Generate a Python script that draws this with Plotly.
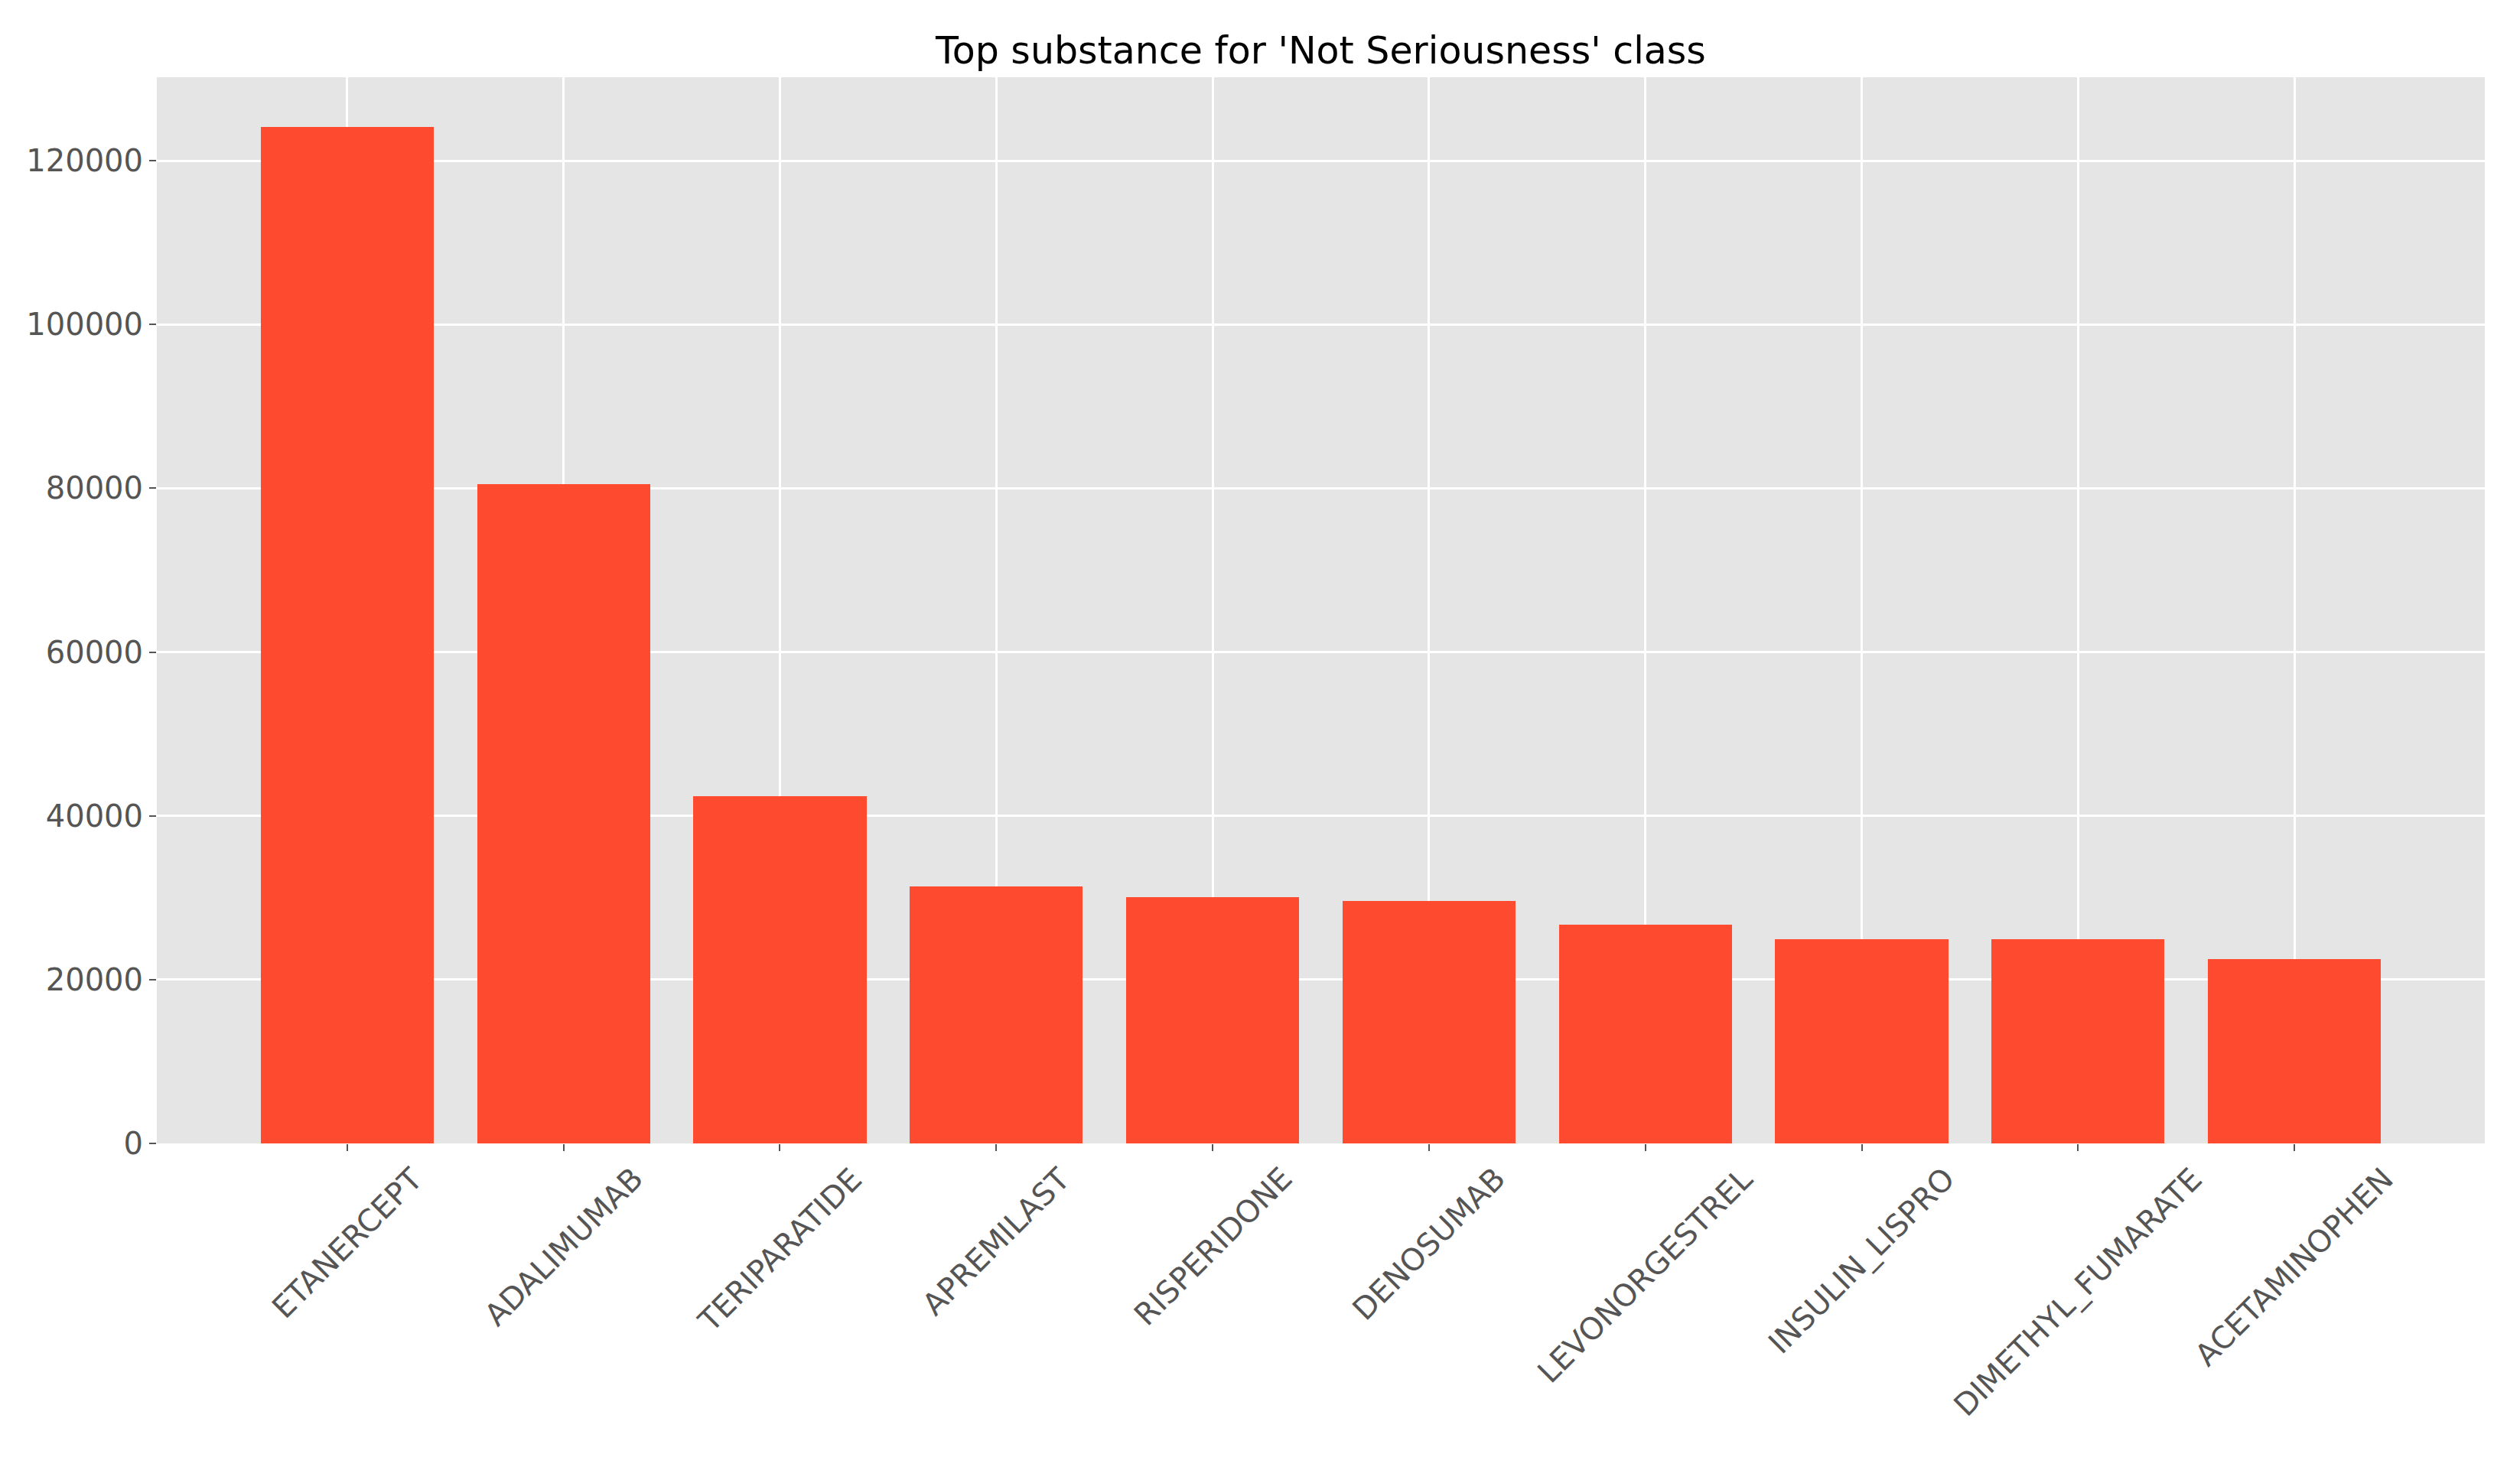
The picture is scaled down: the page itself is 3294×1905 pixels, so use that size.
import plotly.graph_objects as go

categories = ["ETANERCEPT", "ADALIMUMAB", "TERIPARATIDE", "APREMILAST", "RISPERIDONE",
              "DENOSUMAB", "LEVONORGESTREL", "INSULIN_LISPRO", "DIMETHYL_FUMARATE", "ACETAMINOPHEN"]
counts = [124100, 80500, 42400, 31400, 30100, 29600, 26700, 24900, 24900, 22500]
y_ticks = [0, 20000, 40000, 60000, 80000, 100000, 120000]
title_text = "Top substance for 'Not Seriousness' class"

# page body has a default 8px margin, so the figure is sized to fit inside it
W, H = 3286, 1897
FONT = "DejaVu Sans"
GRAY = "#555555"

x_idx = list(range(len(categories)))

fig = go.Figure()
fig.add_trace(go.Bar(
    x=x_idx, y=counts, width=0.8,
    marker=dict(color="#FE4A2F", line=dict(width=0)),
    showlegend=False,
))

annotations = []
for i, lab in zip(x_idx, categories):
    annotations.append(dict(
        x=i, xref="x", y=0, yref="paper",
        text=lab, showarrow=False, textangle=-45,
        xanchor="center", yanchor="top", yshift=-20,
        font=dict(family=FONT, size=40, color=GRAY),
    ))

fig.update_layout(
    width=W, height=H,
    margin=dict(l=197, r=46, t=93, b=410, autoexpand=False),
    paper_bgcolor="white",
    plot_bgcolor="#E5E5E5",
    bargap=0,
    title=dict(
        text=title_text, x=0.5, xref="paper", xanchor="center",
        y=1, yref="paper", yanchor="bottom", pad=dict(b=18),
        font=dict(family=FONT, size=49, color="black"),
    ),
    xaxis=dict(
        range=[-0.88, 9.88], tickmode="array", tickvals=x_idx,
        showticklabels=False, ticks="outside", ticklen=9, tickwidth=2,
        tickcolor=GRAY, showgrid=True, gridcolor="white", gridwidth=3,
        zeroline=False, showline=False,
    ),
    yaxis=dict(
        range=[0, 130200], tickmode="array", tickvals=y_ticks,
        ticktext=[str(v) for v in y_ticks],
        ticks="outside", ticklen=9, tickwidth=2, tickcolor=GRAY,
        tickfont=dict(family=FONT, size=40, color=GRAY),
        showgrid=True, gridcolor="white", gridwidth=3,
        zeroline=False, showline=False,
    ),
    annotations=annotations,
)

fig.write_html("out.html")
